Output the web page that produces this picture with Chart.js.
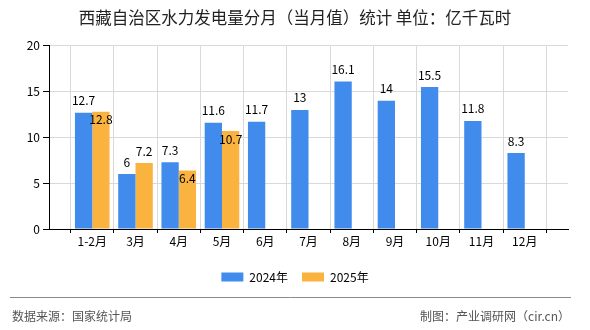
<!DOCTYPE html>
<html>
<head>
<meta charset="utf-8">
<script src="https://cdn.jsdelivr.net/npm/chart.js@4.4.1/dist/chart.umd.min.js"></script>
<style>
  html, body { margin: 0; padding: 0; background: #fff; }
  #chart { display: block; }
</style>
</head>
<body>
<canvas id="chart" width="590" height="330"></canvas>
<script>
// 分月数据（1-2月合并发布）
const months = ['1-2月', '3月', '4月', '5月', '6月', '7月', '8月', '9月', '10月', '11月', '12月'];
const values2024 = [12.7, 6, 7.3, 11.6, 11.7, 13, 16.1, 14, 15.5, 11.8, 8.3];
const values2025 = [12.8, 7.2, 6.4, 10.7];
const yTicks = [0, 5, 10, 15, 20];

const seriesNames = ['2024年', '2025年'];
const seriesColors = ['#418bec', '#fbb33f'];

const titleText = '西藏自治区水力发电量分月（当月值）统计 单位：亿千瓦时';
const sourceText = '数据来源：国家统计局';
const creditText = '制图：产业调研网（cir.cn）';

const fontFamily = "'Noto Sans CJK SC', 'Noto Sans', sans-serif";
const gridColor = '#d9d9d9';

// 轴两端各空一格，类别落在刻度线上
const labels = ['', ...months, ''];
const padSeries = arr => [null, ...months.map((m, i) => (i < arr.length ? arr[i] : null)), null];

function boxesOverlap(a, b) {
    return a.l < b.r && b.l < a.r && a.t < b.b && b.t < a.b;
}

// 柱顶数值；后一系列与前一系列标签相撞时移到柱内
const valueLabels = {
    id: 'valueLabels',
    afterDatasetsDraw(chart) {
        const ctx = chart.ctx;
        ctx.save();
        ctx.font = '12px ' + fontFamily;
        ctx.fillStyle = '#000';
        ctx.textAlign = 'center';
        ctx.textBaseline = 'middle';
        const placed = [];
        chart.data.datasets.forEach((ds, di) => {
            const meta = chart.getDatasetMeta(di);
            meta.data.forEach((bar, i) => {
                const v = ds.data[i];
                if (v === null || v === undefined) return;
                const text = String(v);
                const half = ctx.measureText(text).width / 2 + 2;
                const boxAt = y => ({ i, l: bar.x - half, r: bar.x + half, t: y - 6, b: y + 6 });
                let y = bar.y - 12;
                if (placed.some(p => p.i === i && boxesOverlap(p, boxAt(y)))) {
                    y = bar.y + 8;
                }
                placed.push(boxAt(y));
                ctx.fillText(text, bar.x, y);
            });
        });
        ctx.restore();
    }
};

// 底部分隔线与来源说明
const footer = {
    id: 'footer',
    afterDraw(chart) {
        const ctx = chart.ctx;
        ctx.save();
        ctx.strokeStyle = '#8a8a8a';
        ctx.lineWidth = 1;
        ctx.beginPath();
        ctx.moveTo(10, 297.5);
        ctx.lineTo(571, 297.5);
        ctx.stroke();
        ctx.font = '12px ' + fontFamily;
        ctx.fillStyle = '#555';
        ctx.textBaseline = 'middle';
        ctx.textAlign = 'left';
        ctx.fillText(sourceText, 12, 316);
        ctx.textAlign = 'right';
        ctx.fillText(creditText, 570, 316);
        ctx.restore();
    }
};

new Chart(document.getElementById('chart'), {
    type: 'bar',
    data: {
        labels: labels,
        datasets: [
            { label: seriesNames[0], data: padSeries(values2024), backgroundColor: seriesColors[0] },
            { label: seriesNames[1], data: padSeries(values2025), backgroundColor: seriesColors[1] }
        ]
    },
    options: {
        responsive: false,
        animation: false,
        events: [],
        categoryPercentage: 0.8,
        barPercentage: 1,
        layout: { padding: { left: 0, right: 0, top: 0, bottom: 37 } },
        plugins: {
            title: {
                display: true,
                text: titleText,
                color: '#222',
                font: { family: fontFamily, size: 16.5, weight: 'normal' },
                padding: { top: 8, bottom: 18 }
            },
            legend: {
                position: 'bottom',
                labels: {
                    boxWidth: 22,
                    boxHeight: 9,
                    padding: 14,
                    color: '#000',
                    font: { family: fontFamily, size: 12 }
                }
            },
            tooltip: { enabled: false }
        },
        scales: {
            x: {
                offset: false,
                grid: { color: gridColor, tickColor: '#000', tickLength: 4 },
                border: { color: '#000' },
                ticks: {
                    autoSkip: false,
                    maxRotation: 0,
                    padding: 1,
                    color: '#000',
                    font: { family: fontFamily, size: 12 }
                },
                afterFit(scale) { scale.height = 28; }
            },
            y: {
                min: yTicks[0],
                max: yTicks[yTicks.length - 1],
                grid: { color: gridColor, tickColor: '#000', tickLength: 6 },
                border: { color: '#000' },
                ticks: {
                    stepSize: yTicks[1] - yTicks[0],
                    padding: 3,
                    color: '#000',
                    font: { family: fontFamily, size: 12 }
                },
                afterFit(scale) { scale.width = 49; }
            },
            // 右侧留白
            right: {
                position: 'right',
                grid: { display: false },
                border: { display: false },
                ticks: { display: false },
                afterFit(scale) { scale.width = 22; }
            }
        }
    },
    plugins: [valueLabels, footer]
});
</script>
</body>
</html>
